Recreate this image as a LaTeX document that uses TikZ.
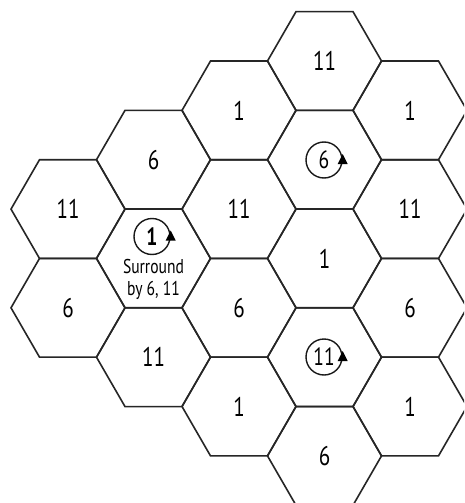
\documentclass[tikz,border=0pt]{standalone}
\usepackage{fontspec}
\newfontfamily\hexfont{PT Sans}[FakeStretch=0.78]
\usetikzlibrary{shapes.geometric}
\begin{document}
\begin{tikzpicture}[x=1pt,y=-1pt,
  hex/.style={regular polygon, regular polygon sides=6, minimum size=114pt,
    inner sep=0pt, outer sep=0pt, draw=black!85, line width=1.6pt,
    font=\hexfont\fontsize{27}{29}\selectfont},
  ring/.style={circle, draw=black!90, line width=1.4pt, minimum size=36pt,
    inner sep=0pt, font=\hexfont\fontsize{25}{27}\selectfont},
  note/.style={align=center, inner sep=0pt, font=\hexfont\fontsize{20}{22}\selectfont},
  tip/.style={fill=black}]
\useasboundingbox (0,0) rectangle (464,503);
\clip (0,0) rectangle (464,503);
\fill[white] (0,0) rectangle (464,503);
% column 0
\node[hex] (h03) at (68,209.1) {11};
\node[hex] (h05) at (68,307.8) {6};
% column 1
\node[hex] (h12) at (153.5,159.7) {6};
\node[hex] (h14) at (153.5,258.4) {};
\node[hex] (h16) at (153.5,357.2) {11};
% column 2
\node[hex] (h21) at (239,110.4) {1};
\node[hex] (h23) at (239,209.1) {11};
\node[hex] (h25) at (239,307.8) {6};
\node[hex] (h27) at (239,406.5) {1};
% column 3
\node[hex] (h30) at (324.5,61) {11};
\node[hex] (h32) at (324.5,159.7) {};
\node[hex] (h34) at (324.5,258.4) {1};
\node[hex] (h36) at (324.5,357.2) {};
\node[hex] (h38) at (324.5,455.9) {6};
% column 4
\node[hex] (h41) at (410,110.4) {1};
\node[hex] (h43) at (410,209.1) {11};
\node[hex] (h45) at (410,307.8) {6};
\node[hex] (h47) at (410,406.5) {1};
% circled numbers
\node[ring] (r1) at (152,236.5) {\bfseries 1};
\node[note] (surr) at (153.5,279) {Surround\\by 6, 11};
\node[ring] (r6) at (324,160) {6};
\node[ring] (r11) at (324,357) {11};
\foreach \r in {r1,r6,r11}{
  \fill[tip] ([shift={(-5,4)}]\r.east) -- ([shift={(5,4)}]\r.east)
    -- ([shift={(0,-6)}]\r.east) -- cycle;
}
\end{tikzpicture}
\end{document}
